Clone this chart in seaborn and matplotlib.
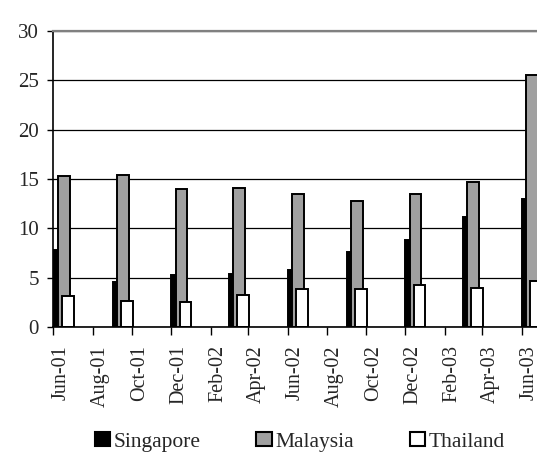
import numpy as np
import pandas as pd
import matplotlib
matplotlib.use("Agg")
import matplotlib.pyplot as plt
import matplotlib.dates as mdates
from matplotlib.patches import Patch
import seaborn as sns

# quarterly observations
quarters = ["2001-06-01", "2001-09-01", "2001-12-01", "2002-03-01", "2002-06-01",
            "2002-09-01", "2002-12-01", "2003-03-01", "2003-06-01"]
singapore = [7.8, 4.6, 5.3, 5.4, 5.8, 7.6, 8.85, 11.2, 13.0]
malaysia = [15.3, 15.45, 14.0, 14.1, 13.45, 12.8, 13.45, 14.75, 25.5]
thailand = [3.2, 2.65, 2.5, 3.25, 3.85, 3.85, 4.25, 3.95, 4.7]
series_names = ["Singapore", "Malaysia", "Thailand"]
series_colors = ["#000000", "#a0a0a0", "#ffffff"]
yticks = [0, 5, 10, 15, 20, 25, 30]

sns.set_style("white")
plt.rcParams['font.family'] = ['Liberation Serif', 'DejaVu Serif']
fs = 14.5

fig = plt.figure(figsize=(5.37, 4.62), dpi=100)
ax = fig.add_axes([0.0996, 0.292, 0.9004, 0.6407])
ax.set_axisbelow(True)

xnum = mdates.date2num(pd.to_datetime(quarters))
# day offsets of each series inside the month slot (Excel-style overlapping bars)
offsets = [9.5, 16.3, 22.7]
for vals, col, off in zip([singapore, malaysia, thailand], series_colors, offsets):
    sns.barplot(x=xnum + off, y=vals, native_scale=True, orient="x", width=0.2,
                color=col, saturation=1, edgecolor="black", linewidth=1.4,
                errorbar=None, ax=ax)

left = mdates.date2num(pd.Timestamp("2001-06-01"))
ax.set_xlim(left, left + 754)
ax.set_ylim(0, 30)
ax.set_yticks(yticks)
ax.set_yticklabels([str(t) for t in yticks], fontsize=15)
ax.yaxis.grid(True, color="black", linewidth=0.9)
ax.xaxis.grid(False)

ax.xaxis.set_major_locator(mdates.MonthLocator(bymonth=[2, 4, 6, 8, 10, 12], bymonthday=1))
ax.xaxis.set_major_formatter(plt.NullFormatter())
ax.xaxis.set_minor_locator(mdates.MonthLocator(bymonth=[2, 4, 6, 8, 10, 12], bymonthday=13))
ax.xaxis.set_minor_formatter(mdates.DateFormatter("%b-%y"))
ax.tick_params(axis="x", which="major", direction="out", length=6, width=1, color="black", bottom=True)
ax.tick_params(axis="x", which="minor", length=0, pad=13, labelsize=fs, labelrotation=90, bottom=True)
ax.tick_params(axis="y", direction="out", length=4.5, width=1, color="black", pad=6, left=True)

for side in ["left", "bottom"]:
    ax.spines[side].set_color("black")
    ax.spines[side].set_linewidth(1.2)
ax.spines["top"].set_color("#808080")
ax.spines["top"].set_linewidth(1.6)
ax.spines["right"].set_visible(False)
ax.set_xlabel("")
ax.set_ylabel("")

handles = [Patch(facecolor=c, edgecolor="black", linewidth=1.5) for c in series_colors]
fig.legend(handles, series_names, loc="center", bbox_to_anchor=(0.558, 0.043), ncol=3,
           frameon=False, handlelength=0.72, handleheight=0.63, handletextpad=0.15,
           columnspacing=2.6, borderpad=0,
           prop={"family": "Liberation Serif", "size": 15.5})

fig.savefig("out.png", dpi=100)
